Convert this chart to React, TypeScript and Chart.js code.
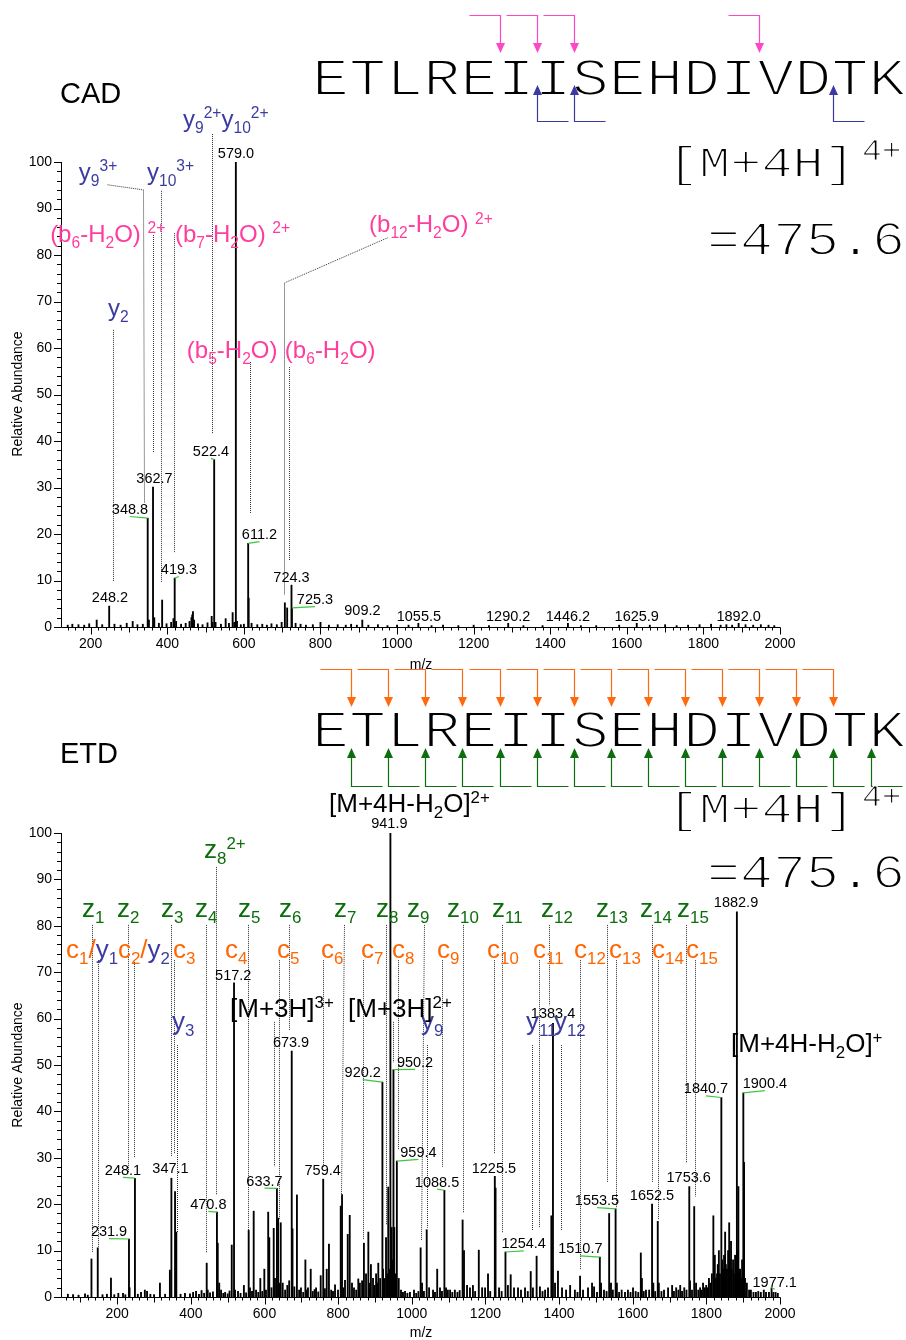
import React, { useEffect, useRef } from 'react';
import { Chart, registerables } from 'chart.js';

Chart.register(...registerables);

const SANS = '"Liberation Sans", Arial, sans-serif';
const MONO = '"Liberation Mono", "Courier New", monospace';

// ---------------- data ----------------
const xTickLabels = [200, 400, 600, 800, 1000, 1200, 1400, 1600, 1800, 2000];
const yTickLabels = [0, 10, 20, 30, 40, 50, 60, 70, 80, 90, 100];
const peptide = 'ETLREIISEHDIVDTK';
const precursorIon = '[M+4H]';
const precursorCharge = '4+';
const precursorMz = '=475.6';
const yAxisTitle = 'Relative Abundance';
const xAxisTitle = 'm/z';

// CAD spectrum (m/z, relative abundance)
const cadMz = [
  140, 152, 168, 183, 196, 215.6, 230, 248.2, 262, 278, 294, 309.6, 322, 336, 348.8, 352, 362.7, 366,
  378, 386.5, 398, 410, 416, 419.3, 423, 436, 448, 458, 463, 465, 467, 470, 480, 492, 505, 515.9, 518,
  522.4, 526, 540, 552.4, 561, 570.6, 575, 579.0, 582, 592, 600, 611.2, 612.4, 620, 635, 648, 660, 672,
  686, 698.6, 707, 713, 724.3, 725.3, 735, 748, 762, 780, 800, 822, 845, 866, 880, 895, 909.2, 925, 950,
  975, 1000, 1030, 1055.5, 1090, 1120, 1160, 1200, 1240, 1290.2, 1330, 1380, 1446.2, 1480, 1520, 1580,
  1625.9, 1660, 1700, 1730, 1760, 1790, 1820, 1845, 1860, 1875, 1892.0, 1910, 1930, 1950, 1970, 1985,
];
const cadInt = [
  0.4, 0.6, 0.5, 0.4, 0.7, 1.5, 0.5, 4.5, 0.6, 0.4, 0.8, 1.2, 0.5, 0.6, 23.4, 1.5, 30.1, 2.0,
  0.8, 5.8, 0.7, 1.0, 1.8, 10.5, 1.2, 0.6, 0.8, 1.2, 2.0, 2.6, 3.3, 1.5, 0.7, 0.5, 0.9, 2.3, 1.0,
  36, 1.0, 0.6, 1.8, 0.8, 3.1, 1.0, 100, 1.2, 0.5, 0.6, 18, 6.2, 0.8, 0.5, 0.6, 0.4, 0.7,
  0.5, 1.0, 5.2, 4.1, 9, 4.1, 0.8, 0.6, 0.4, 0.5, 1.0, 0.4, 0.5, 0.4, 0.6, 0.4, 1.5, 0.4, 0.5,
  0.3, 0.4, 0.4, 0.8, 0.3, 0.4, 0.3, 0.4, 0.3, 0.8, 0.3, 0.3, 0.8, 0.3, 0.3, 0.4,
  0.8, 0.4, 0.5, 0.3, 0.4, 0.5, 0.6, 0.4, 0.5, 0.4, 0.8, 0.5, 0.4, 0.5, 0.4, 0.3,
];

// ETD spectrum (m/z, relative abundance)
const etdMz = [
  66, 80, 95, 112.5, 120, 130, 147.1, 160, 172, 183, 192, 203, 215.7, 222, 231.9, 233.5, 248.1, 256,
  264.6, 275, 281, 290, 300, 316, 330, 343, 347.1, 357, 360.5, 372, 384, 397.6, 406, 414, 422, 429,
  436, 443, 445.7, 452, 460, 470.8, 473, 477, 482, 488, 493, 500, 505, 511, 517.2, 520, 528, 535, 544,
  550, 557, 560.6, 566, 570.6, 577, 583, 588.6, 594, 599.5, 604, 610, 613, 619, 625, 628.5, 633.7, 637,
  641, 644, 649.4, 656, 662, 667, 673.9, 676, 681, 688, 694, 699, 705, 711, 714, 718, 725.5, 731, 736,
  740, 746, 752.6, 759.4, 764, 769, 775, 781, 786, 791.5, 799.6, 807, 810.5, 814, 818.6, 826, 831.4,
  837.6, 843, 849, 854.7, 859, 865, 870, 875.7, 882, 885.5, 889, 894.7, 899, 903, 906, 909, 914, 920.2,
  922, 926, 930, 933, 936, 939, 941.9, 945.5, 948, 950.2, 952.5, 956, 959.4, 964.5, 970.7, 976, 981.6,
  988, 995, 1006, 1012, 1018, 1024, 1027.8, 1033, 1040.5, 1047, 1057.7, 1063, 1069, 1076.6, 1082,
  1088.5, 1093, 1098, 1104, 1110, 1117, 1124, 1130, 1138, 1141.8, 1150, 1158, 1166, 1172, 1182, 1191,
  1199, 1207, 1213, 1225.5, 1227.5, 1237, 1244, 1254.4, 1261, 1268.6, 1277.6, 1288.5, 1296.6, 1307.5,
  1315, 1323, 1329, 1339, 1348, 1355, 1362, 1370, 1379, 1383.4, 1389, 1397, 1408, 1419, 1430, 1443,
  1450, 1457, 1465, 1478.6, 1489.5, 1495, 1503, 1510.7, 1514, 1522, 1529, 1536, 1541, 1546, 1553.5,
  1557, 1563, 1570, 1579, 1587, 1594, 1600.8, 1608, 1615, 1622, 1625, 1630, 1636, 1644.6, 1652.5, 1656,
  1661, 1668, 1671, 1678, 1685, 1696, 1707, 1712, 1718, 1724, 1729, 1734, 1740, 1746, 1753.6, 1755.6,
  1761, 1767, 1772, 1778, 1783, 1787, 1791, 1796, 1799.6, 1803, 1807, 1811, 1815, 1819, 1823, 1826,
  1829, 1831, 1834, 1837, 1840.7, 1842.6, 1846, 1848, 1851, 1853, 1856, 1859, 1862, 1864, 1867, 1869,
  1872.5, 1875, 1878, 1880, 1882.9, 1885, 1887, 1889, 1891.6, 1894, 1897, 1900.4, 1902.5, 1905, 1910,
  1916, 1921, 1928, 1934.6, 1941, 1948, 1956, 1962, 1970, 1977.1, 1982, 1988, 1994,
];
const etdInt = [
  0.6, 0.5, 0.4, 0.7, 0.4, 8.2, 10.6, 0.5, 0.6, 4.1, 0.5, 0.8, 0.8, 0.5, 12.5, 2, 25.6, 0.6,
  1, 1.5, 1.2, 0.6, 0.5, 3, 0.6, 5.8, 25.6, 22.7, 14, 0.6, 0.8, 0.7, 1, 1.2, 0.6, 1.4,
  0.8, 7.3, 1.5, 0.9, 1.1, 18.3, 11.6, 3, 1.5, 0.8, 1, 0.7, 1.3, 11.2, 67.7, 1.5, 1.2, 0.8, 2.5,
  0.9, 14.4, 2, 1.2, 18.5, 1.5, 1.0, 4, 1.2, 6, 1.5, 18.3, 12.8, 2.0, 14.8, 4, 23.4, 17,
  3, 16, 3, 1.5, 2.5, 3.5, 53, 14.7, 2.2, 22, 1.5, 2, 1.0, 8, 1.5, 2, 6, 1.2, 1.6,
  2, 1.1, 4.6, 25.4, 1.8, 6, 11.4, 1.5, 1.2, 2.6, 1.5, 19.6, 22.1, 2, 3.6, 13.5, 17.6,
  3, 2, 1.5, 3.9, 3, 3.5, 11.6, 5, 14, 3, 7, 4, 2.5, 5, 3, 7.3, 4, 46.3,
  6, 4, 12.8, 5, 23.7, 6, 100, 15, 8, 49, 15, 5, 29.3, 4, 1.5, 1, 1.2,
  0.8, 1, 1.5, 0.8, 1.2, 10.6, 3, 1.2, 14.5, 2, 1.5, 1, 6, 2, 1.2,
  23, 2, 1.5, 1.5, 1, 1.5, 1, 1.4, 16.6, 10, 2.5, 2, 2.5, 1.2, 10.1, 2,
  2, 5, 1.2, 26, 23.5, 2, 1.2, 9.7, 2.5, 4.8, 2, 2, 1.5, 2,
  1.2, 5.5, 2, 8.8, 2.2, 1.2, 1.5, 2, 17.5, 59, 3, 5.6, 2, 1.5, 2.5, 1.5,
  1, 4.5, 1.5, 2, 3, 2.2, 1, 8.6, 3, 1.5, 1.2, 18, 3, 1.5, 19,
  3, 1, 1.5, 1, 1.5, 1, 2, 1.2, 1, 9.5, 4, 1.2, 1.5, 1.5, 20, 3,
  1.2, 16.3, 3, 1.2, 1.5, 2, 2.5, 1.2, 2, 1.5, 2.5, 1.2, 2, 1.5, 23.8, 3.5,
  1.5, 19.5, 3, 1.5, 2, 1.5, 3, 2, 2.5, 2, 4, 3, 5, 17.5, 9, 4,
  5, 7, 10, 5, 43, 8, 6, 9, 14, 7, 6, 10, 16, 8, 12, 6,
  8, 5, 9, 7, 83, 10, 23.8, 6, 6, 4, 8, 44, 29, 4, 3,
  1.5, 1.5, 1, 1, 1.2, 1, 1.5, 1, 1, 2, 1, 1, 0.8,
];

// peak labels: [text (= peak m/z), label centre m/z, label baseline abundance, green connector]
const cadPeakLabels: [string, number, number, number][] = [
  ['248.2', 250.3, 5.4, 0],
  ['348.8', 302.5, 24.3, 1],
  ['362.7', 366.5, 31.0, 0],
  ['419.3', 430.5, 11.4, 1],
  ['522.4', 514, 36.8, 1],
  ['579.0', 579.3, 100.9, 0],
  ['611.2', 640.7, 18.9, 1],
  ['724.3', 724.2, 9.7, 0],
  ['725.3', 785.6, 4.9, 1],
  ['909.2', 909.6, 2.6, 0],
  ['1055.5', 1057, 1.3, 0],
  ['1290.2', 1290.2, 1.3, 0],
  ['1446.2', 1446.2, 1.3, 0],
  ['1625.9', 1625.9, 1.3, 0],
  ['1892.0', 1892.0, 1.3, 0],
];
const etdPeakLabels: [string, number, number, number][] = [
  ['231.9', 177.7, 13.1, 1],
  ['248.1', 215.7, 26.3, 1],
  ['347.1', 344.7, 26.7, 0],
  ['470.8', 447.4, 19.0, 1],
  ['517.2', 515, 68.3, 0],
  ['633.7', 600, 24.0, 1],
  ['673.9', 672, 53.9, 0],
  ['759.4', 758, 26.3, 0],
  ['920.2', 866.7, 47.4, 1],
  ['941.9', 939, 101.1, 0],
  ['950.2', 1008.8, 49.6, 1],
  ['959.4', 1018, 30.2, 1],
  ['1088.5', 1068.5, 23.8, 1],
  ['1225.5', 1223, 26.8, 0],
  ['1254.4', 1304, 10.5, 1],
  ['1383.4', 1383.6, 60.1, 0],
  ['1510.7', 1457.7, 9.4, 1],
  ['1553.5', 1503, 19.8, 1],
  ['1652.5', 1652.4, 20.9, 0],
  ['1753.6', 1752, 24.8, 0],
  ['1840.7', 1799, 43.9, 1],
  ['1882.9', 1880.6, 84.1, 0],
  ['1900.4', 1959, 45.0, 1],
  ['1977.1', 1985.7, 2.2, 1],
];

// fragment labels: [markup, left m/z, baseline abundance]
const cadFragments: [string, number, number][] = [
  ['b:y_{9}^{3+}', 169, 96.1],
  ['b:y_{10}^{3+}', 347, 96.1],
  ['b:y_{9}^{2+}y_{10}^{2+}', 441, 107.5],
  ['p:(b_{6}-H_{2}O) ^{2+}', 94, 82.8],
  ['p:(b_{7}-H_{2}O) ^{2+}', 420, 82.8],
  ['p:(b_{12}-H_{2}O) ^{2+}', 927, 84.9],
  ['b:y_{2}', 245, 66.9],
  ['p:(b_{5}-H_{2}O)', 451, 57.8],
  ['p:(b_{6}-H_{2}O)', 707, 57.8],
];
const etdFragments: [string, number, number][] = [
  ['g:z_{8}^{2+}', 435.7, 94.6],
  ['g:z_{1}', 104.3, 81.9], ['g:z_{2}', 199.4, 81.9], ['g:z_{3}', 318.9, 81.9], ['g:z_{4}', 411.2, 81.9],
  ['g:z_{5}', 528, 81.9], ['g:z_{6}', 639.4, 81.9], ['g:z_{7}', 788.8, 81.9], ['g:z_{8}', 902.8, 81.9],
  ['g:z_{9}', 987, 81.9], ['g:z_{10}', 1095.7, 81.9], ['g:z_{11}', 1218, 81.9], ['g:z_{12}', 1351, 81.9],
  ['g:z_{13}', 1500.3, 81.9], ['g:z_{14}', 1619.8, 81.9], ['g:z_{15}', 1720.3, 81.9],
  ['o:c_{1}/|b:y_{1}', 60.9, 73.1], ['o:c_{2}/|b:y_{2}', 202, 73.1], ['o:c_{3}', 351.5, 73.1],
  ['o:c_{4}', 492.7, 73.1], ['o:c_{5}', 634, 73.1], ['o:c_{6}', 753.4, 73.1], ['o:c_{7}', 862, 73.1],
  ['o:c_{8}', 946.3, 73.1], ['o:c_{9}', 1068.5, 73.1], ['o:c_{10}', 1204.3, 73.1], ['o:c_{11}', 1329.2, 73.1],
  ['o:c_{12}', 1440.6, 73.1], ['o:c_{13}', 1535.6, 73.1], ['o:c_{14}', 1652.4, 73.1], ['o:c_{15}', 1744.7, 73.1],
  ['b:y_{3}', 348.8, 57.5], ['b:y_{9}', 1025, 57.5], ['b:y_{11}', 1310, 57.5], ['b:y_{12}', 1386, 57.5],
  ['k:[M+3H]^{3+}', 506.3, 60.3], ['k:[M+3H]^{2+}', 826.8, 60.3],
  ['k:[M+4H-H_{2}O]^{+}', 1867, 52.8], ['k:[M+4H-H_{2}O]^{2+}', 775.2, 104.5],
];

// dotted leader polylines: [m/z, abundance, m/z, abundance, ...]
const cadLeaders: number[][] = [
  [258.2, 63.9, 258.2, 9.7],
  [242.5, 95.1, 336.5, 94, 339, 26.7],
  [362.6, 84.3, 362.6, 37.4],
  [383.5, 93.8, 383.5, 9.7],
  [417.4, 84.7, 417.4, 15.9],
  [516.7, 106, 516.7, 41.7],
  [615.9, 57, 615.9, 24.3],
  [973.6, 83.7, 704.6, 74, 704.6, 6.9],
  [717.7, 55.9, 717.7, 14.4],
];
const etdLeaders: number[][] = [
  [131.5, 80.2, 131.5, 9.7], [147.8, 72.6, 147.8, 10.8], [229.3, 80.2, 229.3, 26.7],
  [244.2, 72.6, 244.2, 30], [346, 80.2, 346, 30.2], [355.5, 72.6, 355.5, 31], [361.5, 54.3, 361.5, 14],
  [440.3, 80.2, 440.3, 9.5], [467.5, 92.7, 467.5, 22], [553.8, 80.2, 553.8, 14.2],
  [626.6, 59.3, 626.6, 28.2], [638.8, 72.6, 638.8, 16.6], [667.3, 80.2, 667.3, 57.5],
  [759.7, 72.6, 759.7, 28], [815.9, 80.2, 807.8, 22], [866.7, 72.6, 868.3, 12.3], [930, 80.2, 930, 15.5],
  [948.2, 59.3, 948.2, 50.6], [963.4, 72.6, 963.4, 31.7], [1033.2, 80.2, 1025, 12.3],
  [1040.5, 54.3, 1040.5, 14.9], [1082, 72.6, 1082, 28], [1140, 80.2, 1140, 18.1], [1224, 72.6, 1224, 31],
  [1245.9, 80.2, 1245.9, 13.8], [1326.5, 54.3, 1326.5, 14.4], [1344.2, 72.6, 1344.2, 14.9],
  [1373.5, 80.2, 1373.5, 62.9], [1404.5, 54.3, 1404.5, 14.4], [1456.9, 72.6, 1456.9, 6],
  [1529.4, 80.2, 1529.4, 24.6], [1553.8, 72.6, 1553.8, 19.2], [1651.6, 80.2, 1651.6, 24.8],
  [1669.5, 72.6, 1669.5, 16.6], [1745.6, 80.2, 1745.6, 28.9], [1767.9, 72.6, 1767.9, 21.6],
];

// cleavage sites (after residue n) marked on the sequence
const cadBSites = [5, 6, 7, 12];
const cadYSites = [6, 7, 14];
const etdCSites = [1, 2, 3, 4, 5, 6, 7, 8, 9, 10, 11, 12, 13, 14];
const etdZSites = [1, 2, 3, 4, 5, 6, 7, 8, 9, 10, 11, 12, 13, 14, 15];

// ---------------- styling ----------------
const COLORS: Record<string, string> = {
  b: '#3c3ca0',
  p: '#ff3d9e',
  o: '#ff6600',
  g: '#0b6e0b',
  k: '#000000',
};
const PINK_ARROW = '#ff46c8';
const BLUE_ARROW = '#3a3aa0';
const ORANGE_ARROW = '#ff6a10';
const GREEN_ARROW = '#0d6e0d';
const GREEN_LINK = '#3cc83c';

const W = 906;
const H = 1340;
const SEQ_X0 = 312;
const SEQ_CW = 37.1;
const MONO_K = 0.87;

function parseMarkup(s: string) {
  const out: { t: string; k: number }[] = [];
  let buf = '';
  let i = 0;
  while (i < s.length) {
    const ch = s[i];
    if ((ch === '_' || ch === '^') && s[i + 1] === '{') {
      if (buf) { out.push({ t: buf, k: 0 }); buf = ''; }
      const end = s.indexOf('}', i + 2);
      out.push({ t: s.slice(i + 2, end), k: ch === '_' ? 1 : 2 });
      i = end + 1;
    } else {
      buf += ch;
      i++;
    }
  }
  if (buf) out.push({ t: buf, k: 0 });
  return out;
}

function drawRich(ctx: CanvasRenderingContext2D, spec: string, x: number, y: number, size: number) {
  ctx.textAlign = 'left';
  ctx.textBaseline = 'alphabetic';
  let cx = x;
  for (const piece of spec.split('|')) {
    ctx.fillStyle = COLORS[piece[0]];
    for (const s of parseMarkup(piece.slice(2))) {
      const fs = s.k ? size * 0.65 : size;
      ctx.font = `${fs}px ${SANS}`;
      const dy = s.k === 1 ? size * 0.24 : s.k === 2 ? -size * 0.36 : 0;
      ctx.fillText(s.t, cx, y + dy);
      cx += ctx.measureText(s.t).width;
    }
  }
}

// monospace text, slightly flattened and thinned to look like a light typewriter face
function monoText(ctx: CanvasRenderingContext2D, text: string, x: number, y: number, size: number, align: CanvasTextAlign) {
  ctx.save();
  ctx.translate(x, y);
  ctx.scale(1, MONO_K);
  ctx.font = `${size}px ${MONO}`;
  ctx.textAlign = align;
  ctx.textBaseline = 'alphabetic';
  ctx.fillStyle = '#000';
  ctx.fillText(text, 0, 0);
  ctx.globalCompositeOperation = 'destination-out';
  ctx.lineWidth = size * 0.04;
  ctx.lineJoin = 'round';
  ctx.strokeStyle = '#000';
  ctx.strokeText(text, 0, 0);
  ctx.restore();
}

function arrowDown(ctx: CanvasRenderingContext2D, sites: number[], yTop: number, yTip: number, color: string) {
  ctx.strokeStyle = color;
  ctx.fillStyle = color;
  ctx.lineWidth = 1.2;
  for (const s of sites) {
    const x = Math.round(SEQ_X0 + SEQ_CW * s + 2) + 0.5;
    ctx.beginPath();
    ctx.moveTo(x - 31, yTop);
    ctx.lineTo(x, yTop);
    ctx.lineTo(x, yTip - 9);
    ctx.stroke();
    ctx.beginPath();
    ctx.moveTo(x - 4.5, yTip - 10);
    ctx.lineTo(x + 4.5, yTip - 10);
    ctx.lineTo(x, yTip);
    ctx.closePath();
    ctx.fill();
  }
}

function arrowUp(ctx: CanvasRenderingContext2D, sites: number[], yBottom: number, yTip: number, color: string) {
  ctx.strokeStyle = color;
  ctx.fillStyle = color;
  ctx.lineWidth = 1.2;
  for (const s of sites) {
    const x = Math.round(SEQ_X0 + SEQ_CW * s + 2) + 0.5;
    ctx.beginPath();
    ctx.moveTo(x + 31, yBottom);
    ctx.lineTo(x, yBottom);
    ctx.lineTo(x, yTip + 9);
    ctx.stroke();
    ctx.beginPath();
    ctx.moveTo(x - 4.5, yTip + 10);
    ctx.lineTo(x + 4.5, yTip + 10);
    ctx.lineTo(x, yTip);
    ctx.closePath();
    ctx.fill();
  }
}

interface Panel {
  name: string;
  title: string;
  mz: number[];
  int: number[];
  xmin: number;
  top: number;
  bottom: number;
  peakLabels: [string, number, number, number][];
  fragments: [string, number, number][];
  leaders: number[][];
  fragSize: number;
  titleY: number;
  seqBase: number;
  down: { sites: number[]; color: string; yTop: number; yTip: number };
  up: { sites: number[]; color: string; yBottom: number; yTip: number };
  ionBase: number;
  chargeBase: number;
  mzBase: number;
  yTitleY: number;
  xTitleY: number;
}

const cadPanel: Panel = {
  name: 'cad', title: 'CAD', mz: cadMz, int: cadInt, xmin: 125, top: 162, bottom: 627,
  peakLabels: cadPeakLabels, fragments: cadFragments, leaders: cadLeaders, fragSize: 24,
  titleY: 103, seqBase: 95,
  down: { sites: cadBSites, color: PINK_ARROW, yTop: 15.5, yTip: 53 },
  up: { sites: cadYSites, color: BLUE_ARROW, yBottom: 121.5, yTip: 85 },
  ionBase: 177, chargeBase: 160, mzBase: 255, yTitleY: 394, xTitleY: 665,
};

const etdPanel: Panel = {
  name: 'etd', title: 'ETD', mz: etdMz, int: etdInt, xmin: 50, top: 833, bottom: 1297,
  peakLabels: etdPeakLabels, fragments: etdFragments, leaders: etdLeaders, fragSize: 26,
  titleY: 763, seqBase: 747,
  down: { sites: etdCSites, color: ORANGE_ARROW, yTop: 669.5, yTip: 707 },
  up: { sites: etdZSites, color: GREEN_ARROW, yBottom: 786.5, yTip: 748 },
  ionBase: 823, chargeBase: 806, mzBase: 888, yTitleY: 1065, xTitleY: 1333,
};

function peakIntensity(p: Panel, mz: number) {
  let best = 0;
  let bd = Infinity;
  p.mz.forEach((m, i) => {
    const d = Math.abs(m - mz);
    if (d < bd) { bd = d; best = p.int[i]; }
  });
  return best;
}

function annotationPlugin(p: Panel) {
  return {
    id: 'annot_' + p.name,
    afterDraw(chart: any) {
      const ctx: CanvasRenderingContext2D = chart.ctx;
      const xs = chart.scales.x;
      const ys = chart.scales.y;
      const X = (v: number) => xs.getPixelForValue(v);
      const Y = (v: number) => ys.getPixelForValue(v);
      ctx.save();

      // axes with tick marks
      const ax = Math.round(X(p.xmin)) - 0.5;
      const ay = Math.round(Y(0)) + 0.5;
      ctx.strokeStyle = '#000';
      ctx.lineWidth = 1;
      ctx.setLineDash([]);
      ctx.beginPath();
      ctx.moveTo(ax, Math.round(Y(100)));
      ctx.lineTo(ax, ay);
      ctx.lineTo(Math.round(X(2000)) + 0.5, ay);
      for (let v = Math.ceil(p.xmin / 20) * 20; v <= 2000; v += 20) {
        const len = v % 200 === 0 ? 7 : v % 100 === 0 ? 5 : 3;
        const px = Math.round(X(v)) + 0.5;
        ctx.moveTo(px, ay);
        ctx.lineTo(px, ay + len);
      }
      for (let v = 0; v <= 100; v += 2) {
        const len = v % 10 === 0 ? 7.5 : 4.5;
        const py = Math.round(Y(v)) + 0.5;
        ctx.moveTo(ax, py);
        ctx.lineTo(ax - len, py);
      }
      ctx.stroke();

      // axis titles
      ctx.fillStyle = '#000';
      ctx.font = `14px ${SANS}`;
      ctx.textAlign = 'center';
      ctx.textBaseline = 'middle';
      ctx.fillText(xAxisTitle, 421, p.xTitleY);
      ctx.save();
      ctx.translate(18, p.yTitleY);
      ctx.rotate(-Math.PI / 2);
      ctx.fillText(yAxisTitle, 0, 0);
      ctx.restore();

      // dotted leader lines
      ctx.strokeStyle = '#303030';
      ctx.lineWidth = 1;
      ctx.setLineDash([1, 1]);
      for (const l of p.leaders) {
        ctx.beginPath();
        for (let i = 0; i < l.length; i += 2) {
          const px = Math.round(X(l[i])) + 0.5;
          const py = Y(l[i + 1]);
          if (i === 0) ctx.moveTo(px, py);
          else ctx.lineTo(px, py);
        }
        ctx.stroke();
      }
      ctx.setLineDash([]);

      // peak labels
      ctx.font = `14.5px ${SANS}`;
      ctx.textAlign = 'center';
      ctx.textBaseline = 'alphabetic';
      for (const [text, lx, ly, green] of p.peakLabels) {
        ctx.fillStyle = '#000';
        ctx.fillText(text, X(lx), Y(ly));
        if (green) {
          const pm = parseFloat(text);
          ctx.strokeStyle = GREEN_LINK;
          ctx.lineWidth = 1.2;
          ctx.beginPath();
          ctx.moveTo(X(lx), Y(ly) + 2.5);
          ctx.lineTo(X(pm), Y(peakIntensity(p, pm)));
          ctx.stroke();
        }
      }

      // fragment labels
      for (const [spec, lx, ly] of p.fragments) {
        drawRich(ctx, spec, X(lx), Y(ly), p.fragSize);
      }

      // panel title
      ctx.fillStyle = '#000';
      ctx.font = `29px ${SANS}`;
      ctx.textAlign = 'left';
      ctx.textBaseline = 'alphabetic';
      ctx.fillText(p.title, 60, p.titleY);

      // peptide sequence
      for (let i = 0; i < peptide.length; i++) {
        monoText(ctx, peptide[i], SEQ_X0 + SEQ_CW * (i + 0.5), p.seqBase, 61.8, 'center');
      }
      arrowDown(ctx, p.down.sites, p.down.yTop, p.down.yTip, p.down.color);
      arrowUp(ctx, p.up.sites, p.up.yBottom, p.up.yTip, p.up.color);

      // precursor
      monoText(ctx, precursorIon, 855, p.ionBase, 52, 'right');
      monoText(ctx, precursorCharge, 862, p.chargeBase, 33, 'left');
      monoText(ctx, precursorMz, 905, p.mzBase, 55, 'right');

      ctx.restore();
    },
  };
}

function makeConfig(p: Panel): any {
  return {
    type: 'bar',
    data: {
      datasets: [
        {
          data: p.mz.map((m, i) => ({ x: m, y: p.int[i] })),
          backgroundColor: '#000',
          borderWidth: 0,
          barThickness: 1.2,
          grouped: false,
        },
      ],
    },
    options: {
      responsive: false,
      animation: false,
      devicePixelRatio: 1,
      events: [],
      layout: { padding: { left: 0, right: W - 780, top: p.top, bottom: H - p.bottom - 40 } },
      plugins: { legend: { display: false }, tooltip: { enabled: false }, title: { display: false } },
      scales: {
        x: {
          type: 'linear',
          min: p.xmin,
          max: 2000,
          offset: false,
          grid: { display: false, drawTicks: false },
          border: { display: false },
          afterBuildTicks: (s: any) => { s.ticks = xTickLabels.map((value) => ({ value })); },
          afterFit: (s: any) => { s.height = 40; },
          ticks: {
            autoSkip: false,
            maxRotation: 0,
            minRotation: 0,
            padding: 9,
            color: '#000',
            font: { family: SANS, size: 14 },
            callback: (v: any) => String(v),
          },
        },
        y: {
          type: 'linear',
          min: 0,
          max: 100,
          grid: { display: false, drawTicks: false },
          border: { display: false },
          afterBuildTicks: (s: any) => { s.ticks = yTickLabels.map((value) => ({ value })); },
          afterFit: (s: any) => { s.width = 62; },
          ticks: {
            padding: 10,
            color: '#000',
            font: { family: SANS, size: 14 },
            callback: (v: any) => String(v),
          },
        },
      },
    },
    plugins: [annotationPlugin(p)],
  };
}

export default function App() {
  const cadRef = useRef<HTMLCanvasElement>(null);
  const etdRef = useRef<HTMLCanvasElement>(null);

  useEffect(() => {
    const c1 = new Chart(cadRef.current as HTMLCanvasElement, makeConfig(cadPanel));
    const c2 = new Chart(etdRef.current as HTMLCanvasElement, makeConfig(etdPanel));
    return () => {
      c1.destroy();
      c2.destroy();
    };
  }, []);

  const canvasStyle: React.CSSProperties = { position: 'absolute', left: 0, top: 0, width: W, height: H };
  return (
    <div style={{ position: 'absolute', left: 0, top: 0, width: W, height: H, background: '#fff', overflow: 'hidden' }}>
      <canvas ref={cadRef} width={W} height={H} style={canvasStyle} />
      <canvas ref={etdRef} width={W} height={H} style={canvasStyle} />
    </div>
  );
}
